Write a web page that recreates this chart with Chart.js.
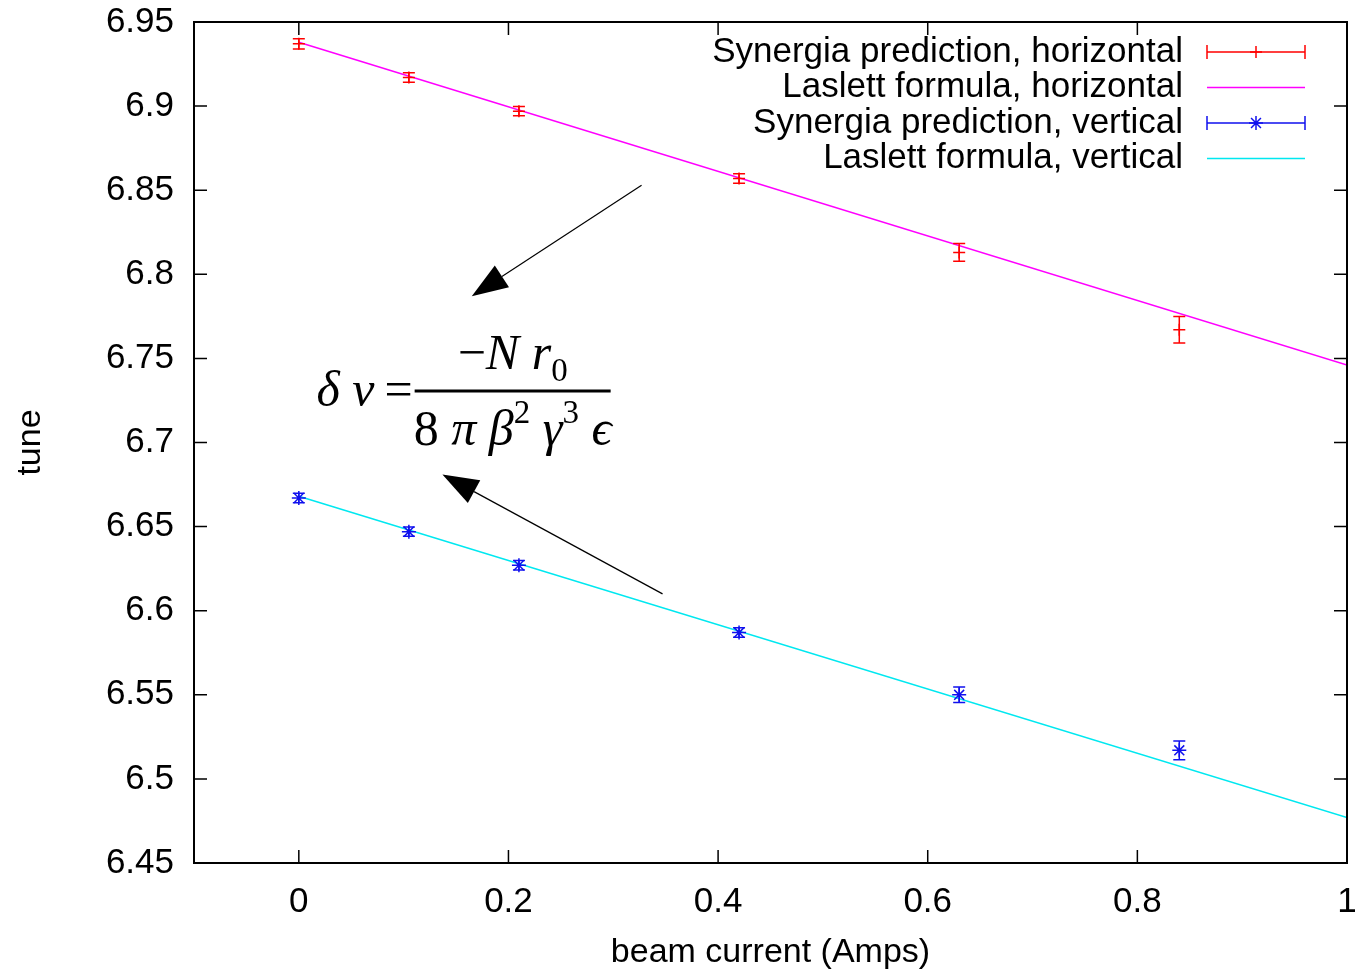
<!DOCTYPE html>
<html>
<head>
<meta charset="utf-8">
<script src="https://cdn.jsdelivr.net/npm/chart.js@4/dist/chart.umd.min.js"></script>
<style>
  html, body { margin: 0; padding: 0; background: #fff; }
  #wrap { width: 1370px; height: 970px; }
</style>
</head>
<body>
<div id="wrap"><canvas id="tunes"></canvas></div>
<script>
// beam current (A) where synergia was run
const current = [0, 0.105, 0.21, 0.42, 0.63, 0.84];

// synergia tunes and their error bars
const synH = [6.937, 6.917, 6.897, 6.857, 6.813, 6.767];
const synHErr = [0.003, 0.0028, 0.0028, 0.0028, 0.0053, 0.0079];
const synV = [6.667, 6.647, 6.627, 6.587, 6.550, 6.517];
const synVErr = [0.0028, 0.0028, 0.0028, 0.0028, 0.0046, 0.0056];

// laslett formula, straight lines from 0 to 1 A
const laslettX = [0, 1];
const laslettH = [6.938, 6.746];
const laslettV = [6.668, 6.477];

const xTicks = [0, 0.2, 0.4, 0.6, 0.8, 1];
const yTicks = [6.45, 6.5, 6.55, 6.6, 6.65, 6.7, 6.75, 6.8, 6.85, 6.9, 6.95];

// arrows pointing at the formula, [x0, y0, x1, y1] in data units
const arrows = [
  [0.327, 6.853, 0.165, 6.787],
  [0.347, 6.610, 0.137, 6.681]
];
const formulaAt = [0.204, 6.7306];

const SANS = '"Liberation Sans", Arial, sans-serif';
const SERIF = '"Liberation Serif", "Times New Roman", serif';

function pts(xs, ys) {
  return xs.map((x, i) => ({ x: x, y: ys[i] }));
}

// error bars + frame ticks + arrows + formula + legend
const gnuplotLook = {
  id: 'gnuplotLook',
  afterDatasetsDraw(chart) {
    const c = chart.ctx;
    const xs = chart.scales.x, ys = chart.scales.y;
    const area = chart.chartArea;

    // error bars
    chart.data.datasets.forEach(ds => {
      if (!ds.errors) return;
      c.save();
      c.strokeStyle = ds.borderColor;
      c.lineWidth = 1.5;
      ds.data.forEach((p, i) => {
        const px = xs.getPixelForValue(p.x);
        const top = ys.getPixelForValue(p.y + ds.errors[i]);
        const bot = ys.getPixelForValue(p.y - ds.errors[i]);
        c.beginPath();
        c.moveTo(px, top); c.lineTo(px, bot);
        c.moveTo(px - 6, top); c.lineTo(px + 6, top);
        c.moveTo(px - 6, bot); c.lineTo(px + 6, bot);
        c.stroke();
      });
      c.restore();
    });

    // frame
    c.save();
    c.strokeStyle = '#000';
    c.lineWidth = 2;
    c.strokeRect(area.left, area.top, area.right - area.left, area.bottom - area.top);
    c.lineWidth = 1.5;
    c.beginPath();
    xs.ticks.forEach(t => {
      const px = xs.getPixelForValue(t.value);
      c.moveTo(px, area.bottom); c.lineTo(px, area.bottom - 13);
      c.moveTo(px, area.top); c.lineTo(px, area.top + 13);
    });
    ys.ticks.forEach(t => {
      const py = ys.getPixelForValue(t.value);
      c.moveTo(area.left, py); c.lineTo(area.left + 13, py);
      c.moveTo(area.right, py); c.lineTo(area.right - 13, py);
    });
    c.stroke();
    c.restore();

    // arrows
    c.save();
    c.strokeStyle = '#000';
    c.fillStyle = '#000';
    c.lineWidth = 1.2;
    arrows.forEach(a => {
      const x0 = xs.getPixelForValue(a[0]), y0 = ys.getPixelForValue(a[1]);
      const x1 = xs.getPixelForValue(a[2]), y1 = ys.getPixelForValue(a[3]);
      const ang = Math.atan2(y1 - y0, x1 - x0);
      const len = 36, half = 13;
      const bx = x1 - len * Math.cos(ang), by = y1 - len * Math.sin(ang);
      c.beginPath();
      c.moveTo(x0, y0); c.lineTo(bx, by);
      c.stroke();
      c.beginPath();
      c.moveTo(x1, y1);
      c.lineTo(bx + half * Math.sin(ang), by - half * Math.cos(ang));
      c.lineTo(bx - half * Math.sin(ang), by + half * Math.cos(ang));
      c.closePath();
      c.fill();
    });
    c.restore();

    // formula
    const fx = xs.getPixelForValue(formulaAt[0]);
    const fy = ys.getPixelForValue(formulaAt[1]);
    const it = 'italic 50px ' + SERIF, rm = '50px ' + SERIF, sm = '33px ' + SERIF;
    const num = [['\u2212', rm, 0], ['N', it, 0], [' ', rm, 0], ['r', it, 0], ['0', sm, 12]];
    const den = [['8', rm, 0], [' \u03c0', it, 0], [' \u03b2', it, 0], ['2', sm, -22],
                 [' \u03b3', it, 0], ['3', sm, -22], [' \u03f5', it, 0]];
    const lhs = [['\u03b4', it, 0], [' \u03bd', it, 0], ['\u2009=', rm, 0]];
    function runWidth(runs) {
      let w = 0;
      runs.forEach(r => { c.font = r[1]; w += c.measureText(r[0]).width; });
      return w;
    }
    function drawRuns(runs, x, y) {
      runs.forEach(r => {
        c.font = r[1];
        c.fillText(r[0], x, y + r[2]);
        x += c.measureText(r[0]).width;
      });
    }
    c.save();
    c.fillStyle = '#000';
    c.textBaseline = 'alphabetic';
    c.textAlign = 'left';
    const barL = fx - 98, barR = fx + 98;
    drawRuns(num, fx - runWidth(num) / 2, fy - 22);
    drawRuns(den, fx - runWidth(den) / 2, fy + 54);
    drawRuns(lhs, barL - runWidth(lhs) - 2, fy + 15);
    c.lineWidth = 3;
    c.beginPath();
    c.moveTo(barL, fy); c.lineTo(barR, fy);
    c.stroke();
    c.restore();

    // key
    c.save();
    c.font = '35px ' + SANS;
    c.textAlign = 'right';
    c.textBaseline = 'middle';
    const textR = 1183, s0 = 1207, s1 = 1305, sm2 = (s0 + s1) / 2;
    chart.data.datasets.forEach((ds, i) => {
      const y = 52 + i * 35.5;
      c.fillStyle = '#000';
      c.fillText(ds.label, textR, y);
      c.strokeStyle = ds.borderColor;
      c.lineWidth = 1.5;
      c.beginPath();
      c.moveTo(s0, y); c.lineTo(s1, y);
      if (ds.errors) {
        c.moveTo(s0, y - 7); c.lineTo(s0, y + 7);
        c.moveTo(s1, y - 7); c.lineTo(s1, y + 7);
      }
      c.stroke();
      if (ds.errors) {
        c.beginPath();
        const r = ds.pointRadius;
        c.moveTo(sm2 - r, y); c.lineTo(sm2 + r, y);
        c.moveTo(sm2, y - r); c.lineTo(sm2, y + r);
        if (ds.pointStyle === 'star') {
          const d = r * 0.707;
          c.moveTo(sm2 - d, y - d); c.lineTo(sm2 + d, y + d);
          c.moveTo(sm2 - d, y + d); c.lineTo(sm2 + d, y - d);
        }
        c.stroke();
      }
    });
    c.restore();
  }
};

new Chart(document.getElementById('tunes'), {
  type: 'scatter',
  data: {
    datasets: [
      {
        label: 'Synergia prediction, horizontal',
        data: pts(current, synH),
        errors: synHErr,
        borderColor: '#ff0000',
        backgroundColor: '#ff0000',
        pointStyle: 'cross',
        pointRadius: 6,
        borderWidth: 1.5,
        showLine: false
      },
      {
        label: 'Laslett formula, horizontal',
        data: pts(laslettX, laslettH),
        borderColor: '#ff00ff',
        backgroundColor: '#ff00ff',
        borderWidth: 1.5,
        pointRadius: 0,
        showLine: true
      },
      {
        label: 'Synergia prediction, vertical',
        data: pts(current, synV),
        errors: synVErr,
        borderColor: '#1010ee',
        backgroundColor: '#1010ee',
        pointStyle: 'star',
        pointRadius: 7,
        borderWidth: 1.5,
        showLine: false
      },
      {
        label: 'Laslett formula, vertical',
        data: pts(laslettX, laslettV),
        borderColor: '#00e8f0',
        backgroundColor: '#00e8f0',
        borderWidth: 1.5,
        pointRadius: 0,
        showLine: true
      }
    ]
  },
  options: {
    responsive: true,
    maintainAspectRatio: false,
    animation: false,
    layout: { padding: { top: 22, right: 23, left: 0, bottom: 0 } },
    plugins: {
      legend: { display: false },
      tooltip: { enabled: false }
    },
    scales: {
      x: {
        type: 'linear',
        min: -0.1,
        max: 1,
        afterBuildTicks: s => { s.ticks = xTicks.map(v => ({ value: v })); },
        afterFit: s => { s.height = 107; s.paddingLeft = 0; s.paddingRight = 0; },
        grid: { display: false },
        border: { display: false },
        ticks: {
          color: '#000',
          font: { family: SANS, size: 35 },
          padding: 10,
          maxRotation: 0,
          callback: v => String(+v.toFixed(2))
        },
        title: {
          display: true,
          text: 'beam current (Amps)',
          color: '#000',
          font: { family: SANS, size: 34, lineHeight: 1.0 },
          padding: { top: 0, bottom: 0 }
        }
      },
      y: {
        type: 'linear',
        min: 6.45,
        max: 6.95,
        afterBuildTicks: s => { s.ticks = yTicks.map(v => ({ value: v })); },
        afterFit: s => { s.width = 194; s.paddingTop = 0; s.paddingBottom = 0; },
        grid: { display: false },
        border: { display: false },
        ticks: {
          color: '#000',
          font: { family: SANS, size: 35 },
          padding: 12,
          callback: v => String(+v.toFixed(2))
        },
        title: {
          display: true,
          text: 'tune',
          color: '#000',
          font: { family: SANS, size: 34 },
          padding: { top: 10, bottom: 0 }
        }
      }
    }
  },
  plugins: [gnuplotLook]
});
</script>
</body>
</html>
